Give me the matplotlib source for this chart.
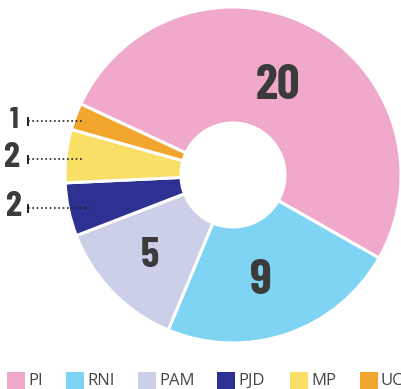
import matplotlib.pyplot as plt
from matplotlib.patches import Rectangle

# seats per party
parties = ['PI', 'RNI', 'PAM', 'PJD', 'MP', 'UC']
seats = [20, 9, 5, 2, 2, 1]
colors = ['#f0a9cb', '#7fd4f4', '#cbcfe8', '#2e3192', '#f9df66', '#f2a62d']

W, H = 401, 389
fig = plt.figure(figsize=(W / 100, H / 100), dpi=100)
ax = fig.add_axes([0, 0, 1, 1])
ax.set_xlim(0, W)
ax.set_ylim(0, H)
ax.set_aspect('equal')
ax.axis('off')

cx, cy = 233, H - 175
r_out, r_in = 168, 52
ax.pie(seats, colors=colors, center=(cx, cy), radius=r_out,
       startangle=155, counterclock=False,
       wedgeprops=dict(width=r_out - r_in, edgecolor='white', linewidth=2.2))
ax.set_xlim(0, W)
ax.set_ylim(0, H)

num_font = ['Barlow Condensed', 'DejaVu Sans']
dark = '#3b3b3b'

# big numbers inside the wide slices
inside = {'PI': (278, 86, 36), 'RNI': (261, 281, 36), 'PAM': (150, 256, 30)}
for name, (x, y, fs) in inside.items():
    v = seats[parties.index(name)]
    ax.text(x, H - y, str(v), ha='center', va='center', fontsize=fs,
            fontweight='bold', color=dark, family=num_font)

# small slices labelled on the left with dotted leaders
outside = {'UC': (14, 120, 83, 22), 'MP': (12, 158, 83, 26), 'PJD': (14, 207, 90, 26)}
for name, (x, y, x_end, fs) in outside.items():
    v = seats[parties.index(name)]
    ax.text(x, H - y, str(v), ha='center', va='center', fontsize=fs,
            fontweight='bold', color=dark, family=num_font)
    ax.plot([28, x_end], [H - y - 1, H - y - 1], color='#222222', lw=1.2,
            linestyle=(0, (1, 1.6)))
    ax.plot([28, 28], [H - y - 4.5, H - y + 2.5], color='#222222', lw=1.4)

# legend row
leg_x = [7, 66, 138, 217, 290, 360]
leg_y = H - 381
for x, name, c in zip(leg_x, parties, colors):
    ax.add_patch(Rectangle((x, leg_y - 9), 18, 18, facecolor=c, edgecolor='none'))
    ax.text(x + 21, leg_y, name, ha='left', va='center', fontsize=12,
            color='#444444', family='Open Sans')

fig.savefig('out.png', dpi=100)
